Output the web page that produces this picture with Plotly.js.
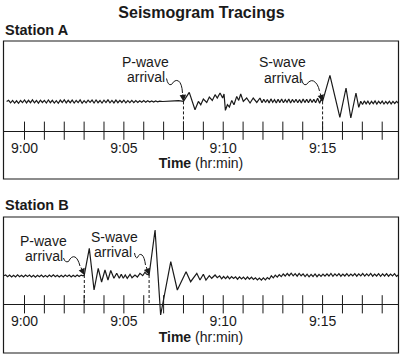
<!DOCTYPE html>
<html><head><meta charset="utf-8">
<script src="https://cdn.plot.ly/plotly-3.0.1.min.js"></script>
<style>html,body{margin:0;padding:0;background:#fff}#chart{width:403px;height:357px}</style>
</head><body><div id="chart"></div>
<script>
// ---------- DATA (time in minutes after 9:00, amplitude in arbitrary units) ----------
const tickMinutes = [0,1,2,3,4,5,6,7,8,9,10,11,12,13,14,15,16,17,18];
const labelMinutes = [0,5,10,15];
const labelText = ['9:00','9:05','9:10','9:15'];

// Station A
const aPreStart = -0.9, aPreStep = 0.1;
const aPreAmp = [
 0.2,1.4,-1.1,1.3,-1.4,0.9,-1.6,1.2,-0.9,1.7,
 -1.2,1.4,-1.0,1.8,-1.1,1.2,-1.5,1.5,-0.8,1.3,
 -1.3,1.7,-1.0,1.4,-1.4,1.0,-1.6,1.6,-0.8,1.9,
 -1.2,1.4,-1.0,1.6,-1.3,1.2,-0.9,1.8,-1.5,1.1,
 -1.2,1.5,-0.7,1.6,-1.3,1.7,-1.0,1.2,-1.4,1.5,
 -0.9,1.8,-1.1,1.3,-1.2,1.6,-1.0,1.4,-0.8,1.5,
 -1.2,1.1,-0.9,1.3,-1.0,1.2,-0.8,1.0,-0.6,1.1,
 -0.6,0.9,-0.4,0.8,-0.3,0.7,-0.1,0.6];
const aPEventT = [6.95,7.15,7.35,7.55,7.75,7.9,8.0,8.29,8.58,8.75,8.87,9.0,9.17,9.3,9.45,9.59,9.7,9.84,9.97,10.04,10.11,10.21,10.31,10.43,10.54,10.68,10.78,10.88,11.01,11.18,11.35,11.51,11.69,11.85];
const aPEventAmp = [0.2,0.6,0.3,0.8,1.0,0.7,0.3,9.3,-8.0,0.3,-3.0,2.7,-0.7,4.7,1.3,7.0,3.7,8.7,3.7,7.7,-8.7,-3.0,-5.3,1.3,-3.0,5.3,1.3,7.7,0.3,3.7,-1.3,3.7,-0.7,3.7];
const aMidStart = 11.95, aMidStep = 0.09;
const aMidAmp = [-1.0,2.5,-0.8,2.2,-1.2,2.8,-0.6,2.0,-1.3,2.4,-0.9,2.6,-1.1,2.1,-0.7,2.7,-1.2,2.3,-0.8,2.5,-1.0,2.2,-1.4,2.6,-0.9,2.4,-1.1,2.8,-0.7,2.3,-1.0];
const aSEventT = [14.75,14.85,14.93,15.0,15.37,15.87,16.18,16.42,16.68,16.82];
const aSEventAmp = [3.5,-1.5,2.5,0.3,26.3,-15.7,13.7,-16.3,8.7,-5.7];
const aPostStart = 16.92, aPostStep = 0.09;
const aPostAmp = [0.5,-2.8,0.8,-2.2,0.6,-2.5,0.3,-2.0,0.7,-2.4,0.4,-1.9,0.6,-2.3,0.2,-2.0,0.5,-2.2,0.3,-1.8,0.4,-1.5];
const arrivalsA = [8.0, 15.0];
const arrivalAmpA = [0.3, 0.3];

// Station B
const bPreStart = -1.05, bPreStep = 0.1;
const bPreAmp = [0.3,1.0,-0.8,0.9,-1.0,0.7,-0.9,1.1,-0.7,0.8,-1.0,0.9,-0.6,1.0,-0.9,0.8,-1.1,0.7,-0.8,1.0,-0.9,0.6,-1.0,0.9,-0.7,1.1,-0.8,0.8,-1.0,0.7,-0.9,1.0,-0.6,0.9,-1.0,0.8,-0.7,1.0,-0.5,0.9,0.2];
const bEventT = [3.01,3.26,3.5,3.71,3.88,4.05,4.2,4.34,4.5,4.64,4.77,4.87,4.97,5.07,5.17,5.31,5.41,5.56,5.68,5.81,5.95,6.06,6.15,6.27,
                 6.57,6.85,7.36,7.69,8.13,8.36,8.67,8.83,9.0,9.13,9.3,9.42,9.59,9.7];
const bEventAmp = [1.0,27.7,-14.0,7.7,-6.0,6.0,-4.0,5.5,-2.3,2.7,-2.3,1.7,-2.3,1.0,-2.3,1.7,-1.7,1.0,-1.0,2.7,0.3,3.7,1.7,1.0,
                   46.0,-39.0,14.3,-14.0,4.3,-5.7,2.7,-4.0,1.7,-4.0,0.3,-2.3,1.0,-1.7];
const bPostStart = 9.82, bPostStep = 0.1;
const bPostAmp = [
 0.2,-2.8,-0.5,-2.6,-0.3,-2.9,-0.6,-2.4,
 -0.8,-3.2,-0.9,-3.0,-1.1,-3.4,-1.0,-3.1,-1.2,-3.5,
 -1.9,-4.0,-2.1,-4.2,-1.8,-3.8,-1.5,-3.2,
 0.2,-1.8,0.8,-1.2,1.4,-0.6,2.0,
 0.0,2.5,0.3,2.8,0.1,2.3,-0.2,2.6,0.2,2.1,
 -0.6,1.8,-0.8,1.6,-0.5,2.0,-0.7,1.7,-0.4,1.9,
 -0.2,2.2,0.0,2.5,-0.3,2.1,0.1,2.4,-0.2,2.0,
 0.0,2.3,-0.1,2.0,0.2,2.4,-0.2,2.1,0.1,2.5,
 -0.1,2.2,0.2,2.6,-0.2,2.0,0.0,2.3,-0.3,2.1,
 0.0,2.4,-0.2,2.0,0.1,2.3,-0.4,1.2];
const arrivalsB = [3.01, 6.27];
const arrivalAmpB = [1.0, 1.0];

// ---------- LAYOUT CONSTANTS ----------
const W = 403, H = 357;
const px = x => x / W, py = y => 1 - y / H;
const FONT = '"Liberation Sans", Arial, Helvetica, sans-serif';
const INK = '#1a1a1a';
const AXIS_A = -29, AXIS_B = -28.3;   // value of the time-axis line inside each panel

function grid(start, step, amps) {
  return { t: amps.map((_, i) => +(start + i * step).toFixed(3)), a: amps };
}
function join(parts) {
  const t = [], a = [];
  parts.forEach(p => { t.push(...p.t); a.push(...p.a); });
  return { t, a };
}
const waveA = join([grid(aPreStart, aPreStep, aPreAmp), {t: aPEventT, a: aPEventAmp},
                    grid(aMidStart, aMidStep, aMidAmp), {t: aSEventT, a: aSEventAmp},
                    grid(aPostStart, aPostStep, aPostAmp)]);
const waveB = join([grid(bPreStart, bPreStep, bPreAmp), {t: bEventT, a: bEventAmp},
                    grid(bPostStart, bPostStep, bPostAmp)]);

const traces = [
  {x: waveA.t, y: waveA.a, xaxis: 'x', yaxis: 'y', mode: 'lines', line: {color: INK, width: 1.2}, hoverinfo: 'skip'},
  {x: waveB.t, y: waveB.a, xaxis: 'x2', yaxis: 'y2', mode: 'lines', line: {color: INK, width: 1.2}, hoverinfo: 'skip'},
  {x: tickMinutes, y: tickMinutes.map(() => AXIS_A), xaxis: 'x', yaxis: 'y', mode: 'markers',
   marker: {symbol: 'line-ns', size: 13, color: INK, line: {color: INK, width: 1}}, hoverinfo: 'skip', cliponaxis: false},
  {x: tickMinutes, y: tickMinutes.map(() => AXIS_B), xaxis: 'x2', yaxis: 'y2', mode: 'markers',
   marker: {symbol: 'line-ns', size: 13, color: INK, line: {color: INK, width: 1}}, hoverinfo: 'skip', cliponaxis: false}
];

const xDomain = [px(3.5), px(398.5)];
const xRange = [-1.057, 18.82];
function timeAxis(pos) {
  return {
    domain: xDomain, range: xRange, anchor: 'free', position: pos,
    showline: true, linecolor: INK, linewidth: 1, showgrid: false, zeroline: false,
    tickmode: 'array', tickvals: labelMinutes, ticktext: labelText, ticks: '',
    ticklabelstandoff: 4,
    tickfont: {family: FONT, size: 14, color: INK},
    title: {text: '<b>Time</b> (hr:min)', font: {family: FONT, size: 14, color: INK}, standoff: 3},
    fixedrange: true
  };
}

const shapes = [
  {type: 'rect', xref: 'x domain', yref: 'y domain', x0: 0, x1: 1, y0: 0, y1: 1, line: {color: INK, width: 1.2}},
  {type: 'rect', xref: 'x2 domain', yref: 'y2 domain', x0: 0, x1: 1, y0: 0, y1: 1, line: {color: INK, width: 1.2}}
];
arrivalsA.forEach((t, i) => shapes.push({type: 'line', xref: 'x', yref: 'y', x0: t, x1: t, y0: arrivalAmpA[i], y1: AXIS_A,
  line: {color: INK, width: 1, dash: '3px,2px'}}));
arrivalsB.forEach((t, i) => shapes.push({type: 'line', xref: 'x2', yref: 'y2', x0: t, x1: t, y0: arrivalAmpB[i], y1: AXIS_B,
  line: {color: INK, width: 1, dash: '3px,2px'}}));

// curly leader lines (pixel coordinates converted to paper)
function curl(pts) {
  const p = pts.map(([x, y]) => `${px(x).toFixed(5)},${py(y).toFixed(5)}`);
  return `M${p[0]} Q${p[1]} ${p[2]} Q${p[3]} ${p[4]} Q${p[5]} ${p[6]}`;
}
const curls = [
  [[166.5,78.5],[168,86],[171.5,84.5],[175,79],[178.5,81],[182,83.5],[182.5,93]],
  [[301.5,79],[303,86],[306.5,84.5],[310,79.5],[313.5,81],[318,83.5],[319.5,91]],
  [[63.5,258],[65,263],[68.5,261.5],[71.5,255.5],[75,257],[78,258.5],[80,266]],
  [[134.5,253],[135.5,259],[137.5,257.5],[139.5,253],[142,255],[144.5,257],[145.5,265]]
];
curls.forEach(c => shapes.push({type: 'path', xref: 'paper', yref: 'paper', path: curl(c), line: {color: INK, width: 1}}));

function label(text, x, y, opts) {
  return Object.assign({text, xref: 'paper', yref: 'paper', x: px(x), y: py(y), xanchor: 'center', yanchor: 'middle',
    showarrow: false, font: {family: FONT, size: 14, color: INK}}, opts || {});
}
function head(xref, yref, t, a, ax, ay) {
  return {text: '', xref, yref, x: t, y: a, ax, ay, showarrow: true, arrowhead: 2, arrowsize: 1.3,
    arrowwidth: 1, arrowcolor: INK, standoff: 0};
}
const annotations = [
  label('<b>Station A</b>', 3, 30, {xanchor: 'left', font: {family: FONT, size: 14.5, color: INK}}),
  label('<b>Station B</b>', 3, 205, {xanchor: 'left', font: {family: FONT, size: 14.5, color: INK}}),
  label('P-wave', 145.5, 61.8), label('arrival', 146, 76.6),
  label('S-wave', 282.5, 62), label('arrival', 282.5, 77.6),
  label('P-wave', 43.3, 240.5), label('arrival', 44, 256),
  label('S-wave', 114.7, 236.8), label('arrival', 113.3, 251.6),
  head('x', 'y', arrivalsA[0], arrivalAmpA[0], -0.8, -8.5),
  head('x', 'y', arrivalsA[1], arrivalAmpA[1], -2.8, -9.5),
  head('x2', 'y2', arrivalsB[0], arrivalAmpB[0], -4, -9),
  head('x2', 'y2', arrivalsB[1], arrivalAmpB[1], -3.3, -9.5)
];

const layout = {
  width: W, height: H, margin: {l: 0, r: 0, t: 0, b: 0, pad: 0},
  paper_bgcolor: '#fff', plot_bgcolor: 'rgba(0,0,0,0)', showlegend: false,
  font: {family: FONT, color: INK},
  title: {text: '<b>Seismogram Tracings</b>', x: 0.5, xanchor: 'center', y: py(12), yanchor: 'middle',
          font: {family: FONT, size: 16, color: INK}},
  xaxis: timeAxis(py(130.7)),
  yaxis: {domain: [py(179), py(41)], range: [-77.3, 60.7], visible: false, anchor: 'x', fixedrange: true},
  xaxis2: timeAxis(py(304.3)),
  yaxis2: {domain: [py(353), py(217)], range: [-77, 59], visible: false, anchor: 'x2', fixedrange: true},
  shapes, annotations
};

Plotly.newPlot('chart', traces, layout, {staticPlot: true, displayModeBar: false});
</script></body></html>
